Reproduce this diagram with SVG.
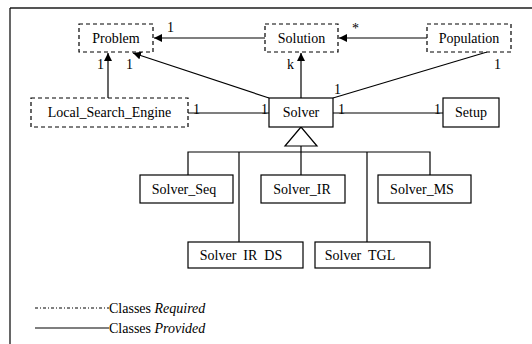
<svg xmlns="http://www.w3.org/2000/svg" width="532" height="344" viewBox="0 0 532 344" font-family="'Liberation Serif', 'Times New Roman', serif">
<defs>
<marker id="ah" viewBox="0 0 10 10" refX="10" refY="5" markerWidth="8" markerHeight="8" markerUnits="userSpaceOnUse" orient="auto">
<path d="M0,0 L10,5 L0,10 z" fill="#000"/>
</marker>
<style>
text{font-family:'Liberation Serif','Times New Roman',serif;font-size:14px;fill:#000}
.lbl{font-size:14px}
.req{fill:#fff;stroke:#000;stroke-width:1.2;stroke-dasharray:4,3}
.prov{fill:#fff;stroke:#000;stroke-width:1.2}
.c{stroke:#000;stroke-width:1.2;fill:none}
</style>
</defs>
<rect width="532" height="344" fill="#fff"/>
<g id="frame">
<line x1="10" y1="8" x2="532" y2="8" stroke="#555" stroke-width="2"/>
<line x1="10" y1="8" x2="10" y2="344" stroke="#000" stroke-width="1.2"/>
</g>
<g id="connectors">
<line class="c" x1="265" y1="38" x2="154" y2="38" marker-end="url(#ah)"/>
<line class="c" x1="427" y1="38" x2="339" y2="38" marker-end="url(#ah)"/>
<line class="c" x1="269" y1="98" x2="133" y2="53" marker-end="url(#ah)"/>
<line class="c" x1="108" y1="98" x2="108" y2="53" marker-end="url(#ah)"/>
<line class="c" x1="301" y1="98" x2="301" y2="53" marker-end="url(#ah)"/>
<line class="c" x1="333" y1="98" x2="487" y2="52"/>
<line class="c" x1="188" y1="113" x2="269" y2="113"/>
<line class="c" x1="333" y1="113" x2="443" y2="113"/>
<polygon class="prov" points="301,127 285,146 317,146"/>
<line class="c" x1="301" y1="146" x2="301" y2="175"/>
<polyline class="c" points="188,175 188,152 430,152 430,175"/>
<line class="c" x1="239" y1="152" x2="239" y2="242"/>
<line class="c" x1="367" y1="152" x2="367" y2="242"/>
<text class="lbl" x="167" y="32">1</text>
<text class="lbl" x="352" y="33">*</text>
<text class="lbl" x="97" y="69">1</text>
<text class="lbl" x="126" y="69">1</text>
<text class="lbl" x="287" y="69">k</text>
<text class="lbl" x="494" y="69">1</text>
<text class="lbl" x="334" y="94">1</text>
<text class="lbl" x="193" y="114">1</text>
<text class="lbl" x="261" y="114">1</text>
<text class="lbl" x="338" y="114">1</text>
<text class="lbl" x="434" y="114">1</text>
</g>
<g id="Problem"><rect class="req" x="79" y="24" width="74" height="28"/><text x="116" y="43" text-anchor="middle">Problem</text></g>
<g id="Solution"><rect class="req" x="265" y="24" width="73" height="28"/><text x="301.5" y="43" text-anchor="middle">Solution</text></g>
<g id="Population"><rect class="req" x="427" y="24" width="84" height="28"/><text x="469" y="43" text-anchor="middle">Population</text></g>
<g id="Local_Search_Engine"><rect class="req" x="31" y="98" width="157" height="29"/><text x="109.5" y="117" text-anchor="middle">Local_Search_Engine</text></g>
<g id="Solver"><rect class="prov" x="269" y="98" width="64" height="29"/><text x="301" y="117" text-anchor="middle">Solver</text></g>
<g id="Setup"><rect class="prov" x="443" y="98" width="56" height="29"/><text x="471" y="117" text-anchor="middle">Setup</text></g>
<g id="Solver_Seq"><rect class="prov" x="140" y="175" width="93" height="28"/><text x="184" y="194" text-anchor="middle">Solver_Seq</text></g>
<g id="Solver_IR"><rect class="prov" x="261" y="175" width="84" height="28"/><text x="302" y="194" text-anchor="middle">Solver_IR</text></g>
<g id="Solver_MS"><rect class="prov" x="378" y="175" width="93" height="28"/><text x="422" y="194" text-anchor="middle">Solver_MS</text></g>
<g id="Solver_IR_DS"><rect class="prov" x="188" y="242" width="115" height="26"/><text x="241" y="260" text-anchor="middle" style="white-space:pre" xml:space="preserve">Solver  IR  DS</text></g>
<g id="Solver_TGL"><rect class="prov" x="315" y="242" width="115" height="26"/><text x="360" y="260" text-anchor="middle" style="white-space:pre" xml:space="preserve">Solver  TGL</text></g>
<g id="legend">
<line x1="35" y1="308" x2="109" y2="308" stroke="#000" stroke-width="1" stroke-dasharray="3,2,1,2"/>
<text x="109" y="313">Classes <tspan font-style="italic">Required</tspan></text>
<line x1="35" y1="328" x2="109" y2="328" stroke="#000" stroke-width="1.2"/>
<text x="109" y="333">Classes <tspan font-style="italic">Provided</tspan></text>
</g>
</svg>
